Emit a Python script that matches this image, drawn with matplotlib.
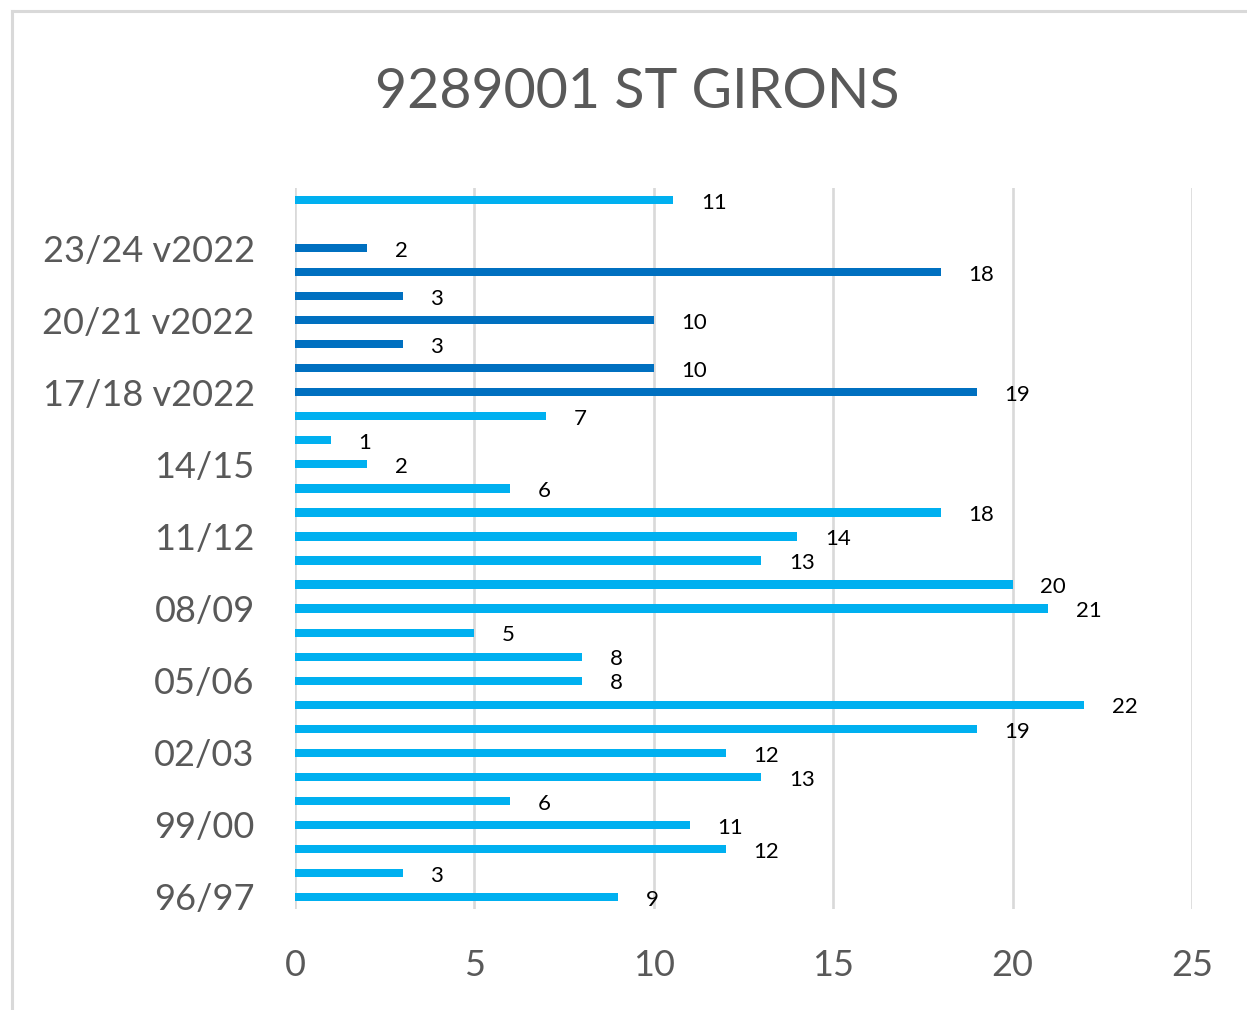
import matplotlib.pyplot as plt
import numpy as np
from matplotlib.lines import Line2D

# saisons et nombre de jours
seasons = ['96/97', '97/98', '98/99', '99/00', '00/01', '01/02', '02/03',
           '03/04', '04/05', '05/06', '06/07', '07/08', '08/09', '09/10',
           '10/11', '11/12', '12/13', '13/14', '14/15', '15/16', '16/17',
           '17/18 v2022', '18/19 v2022', '19/20 v2022', '20/21 v2022',
           '21/22 v2022', '22/23 v2022', '23/24 v2022', '24/25 v2022', 'Moyenne']
counts = [9, 3, 12, 11, 6, 13, 12, 19, 22, 8, 8, 5, 21, 20, 13, 14, 18, 6, 2,
          1, 7, 19, 10, 3, 10, 3, 18, 2, np.nan, 10.54]
is_v2022 = [s.endswith('v2022') for s in seasons]

light = '#00B0F0'
dark = '#0070C0'
grey = '#595959'
grid = '#D9D9D9'
plt.rcParams['font.family'] = ['Lato', 'DejaVu Sans']

W, H = 1247, 1010
fig = plt.figure(figsize=(W / 100, H / 100), dpi=100)
ax = fig.add_axes([295 / W, 1 - 909 / H, (1192 - 295) / W, (909 - 188) / H])

y = np.arange(len(seasons))
colors = [dark if v else light for v in is_v2022]
ax.barh(y, counts, height=0.34, color=colors, zorder=3)

for yi, c in zip(y, counts):
    if np.isnan(c):
        continue
    ax.annotate(f'{c:.0f}', (c, yi), xytext=(20, -2), textcoords='offset points',
                ha='left', va='center', fontsize=16, color='black')

ax.set_xlim(0, 25)
ax.set_ylim(-0.5, len(seasons) - 0.5)
ax.set_xticks(range(0, 26, 5))
ax.set_yticks(y[::3])
ax.set_yticklabels([seasons[i] for i in y[::3]])
ax.tick_params(length=0, labelsize=26, colors=grey)
ax.tick_params(axis='y', pad=29)
ax.tick_params(axis='x', pad=29)
ax.grid(axis='x', color=grid, linewidth=1.9, zorder=0)
for s in ax.spines.values():
    s.set_visible(False)

fig.text(637 / W, 1 - 108 / H, '9289001 ST GIRONS', ha='center', va='baseline',
         fontsize=40, color=grey)

# cadre du graphique
fig.add_artist(Line2D([11.5 / W, 11.5 / W], [0, 1 - 10.5 / H], color=grid, linewidth=2.2))
fig.add_artist(Line2D([11.5 / W, 1], [1 - 10.5 / H, 1 - 10.5 / H], color=grid, linewidth=2.2))

plt.savefig('out.png', dpi=100)
